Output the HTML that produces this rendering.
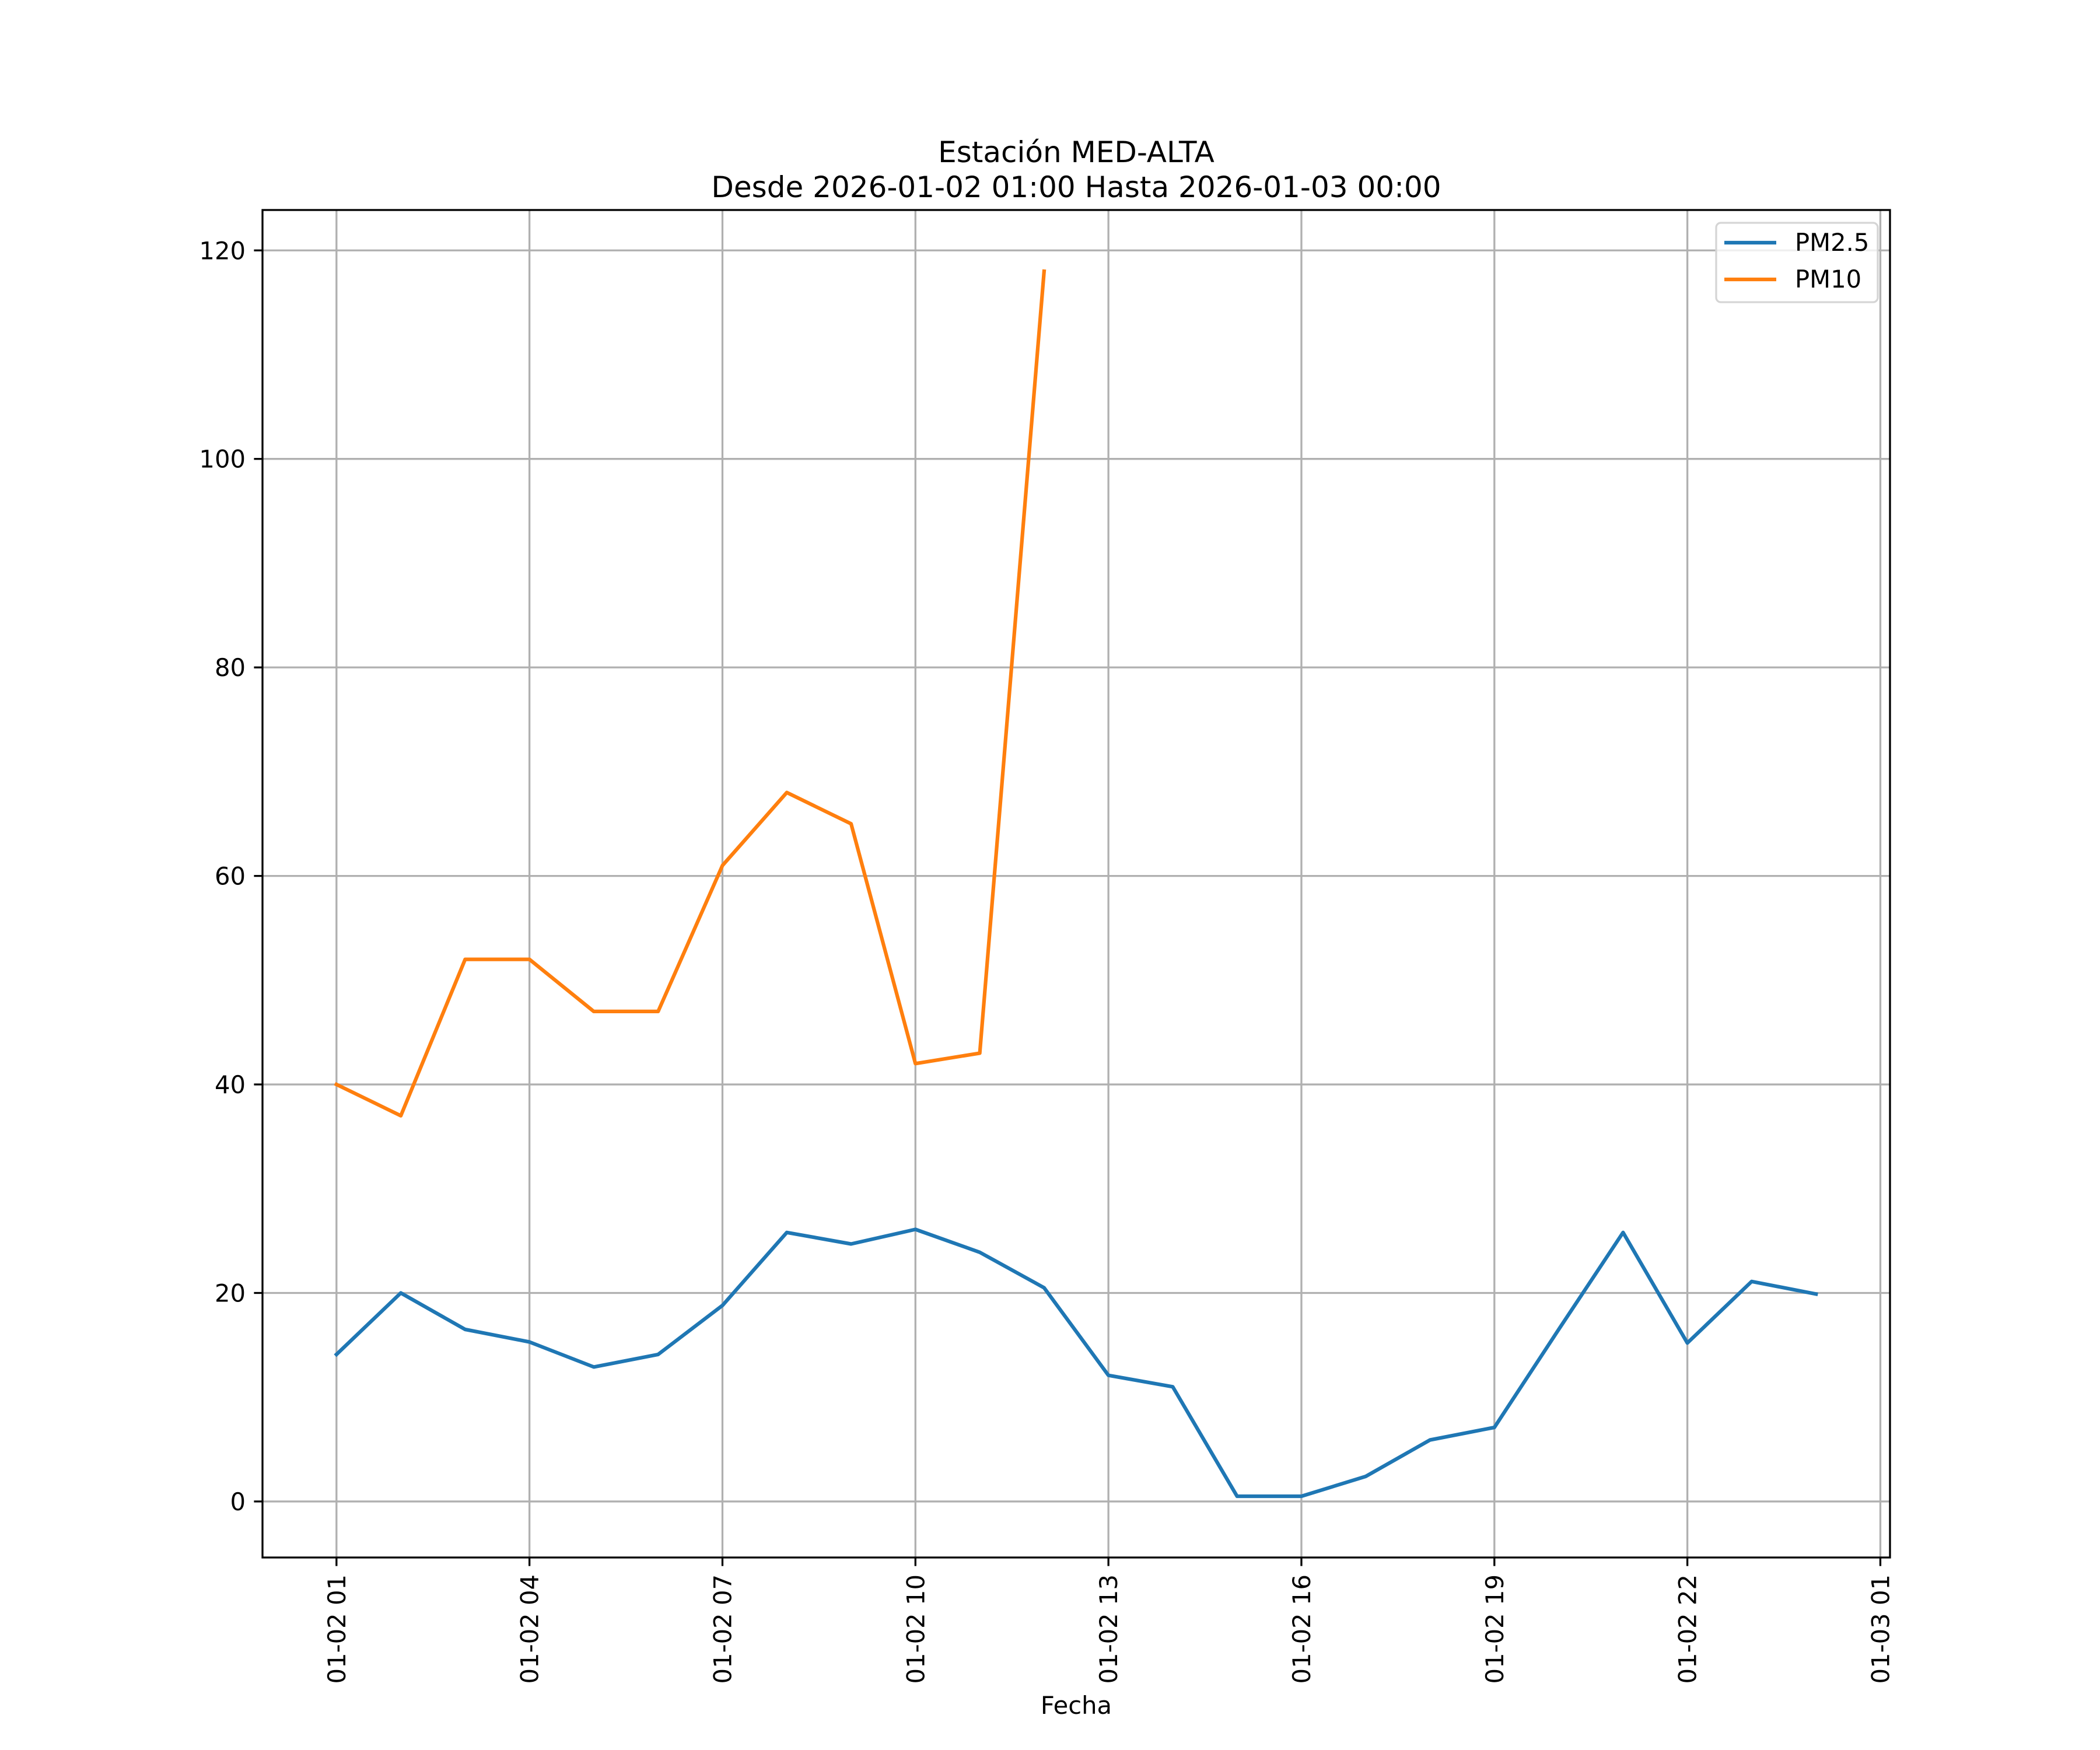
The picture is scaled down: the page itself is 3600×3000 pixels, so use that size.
<!DOCTYPE html>
<html><head><meta charset="utf-8"><style>
html,body{margin:0;padding:0;background:#fff}
svg{display:block;font-family:"DejaVu Sans","Liberation Sans",sans-serif}
</style></head><body>
<svg id="chart" width="3600" height="3000" viewBox="0 0 3600 3000" xmlns="http://www.w3.org/2000/svg">
<rect width="3600" height="3000" fill="#fff"/>
<text x="1845" y="278" font-size="50" text-anchor="middle">Estación MED-ALTA</text>
<text x="1845" y="338" font-size="50" text-anchor="middle">Desde 2026-01-02 01:00 Hasta 2026-01-03 00:00</text>
<g id="grid"></g>
<g id="series"></g>
<rect x="450" y="360" width="2790" height="2310" fill="none" stroke="#000" stroke-width="3.3"/>
<g id="ticks"></g>
<text x="1845" y="2938" font-size="41.7" text-anchor="middle">Fecha</text>
<g>
<rect x="2942" y="382" width="277" height="136" rx="8" fill="#fff" fill-opacity="0.8" stroke="#d5d5d5" stroke-width="3.3"/>
<line x1="2956" y1="416" x2="3045" y2="416" stroke="#1f77b4" stroke-width="6.25"/>
<text x="3077" y="430" font-size="41.7">PM2.5</text>
<line x1="2956" y1="479" x2="3045" y2="479" stroke="#ff7f0e" stroke-width="6.25"/>
<text x="3077" y="493" font-size="41.7">PM10</text>
</g>
</svg>
<script>
const hours = [1,2,3,4,5,6,7,8,9,10,11,12,13,14,15,16,17,18,19,20,21,22,23,24];
const pm25 = [14.1,20,16.5,15.3,12.9,14.1,18.8,25.8,24.7,26.1,23.9,20.5,12.1,11,0.5,0.5,2.4,5.9,7.1,16.5,25.8,15.2,21.1,19.9];
const pm10 = [40,37,52,52,47,47,61,68,65,42,43,118,null,null,null,null,null,null,null,null,null,null,null,null];
const xTickHours = [1,4,7,10,13,16,19,22,25];
const xTickLabels = ["01-02 01","01-02 04","01-02 07","01-02 10","01-02 13","01-02 16","01-02 19","01-02 22","01-03 01"];
const yTicks = [0,20,40,60,80,100,120];

const L=450,R=3240,T=360,B=2670;
const allVals=pm25.concat(pm10).filter(v=>v!==null);
const dmin=Math.min(...allVals),dmax=Math.max(...allVals);
const ym=(dmax-dmin)*0.05, ymin=dmin-ym, ymax=dmax+ym;
const hmin=Math.min(...hours),hmax=Math.max(...hours);
const xm=(hmax-hmin)*0.05, xmin=hmin-xm, xmax=hmax+xm;
const X=h=>L+(h-xmin)/(xmax-xmin)*(R-L);
const Y=v=>B-(v-ymin)/(ymax-ymin)*(B-T);
const NS="http://www.w3.org/2000/svg";
function mk(tag,attrs,parent){const e=document.createElementNS(NS,tag);for(const k in attrs)e.setAttribute(k,attrs[k]);parent.appendChild(e);return e;}
const grid=document.getElementById('grid'),ticks=document.getElementById('ticks'),series=document.getElementById('series');
xTickHours.forEach((h,i)=>{
  const x=X(h);
  const g=mk('line',{x1:x,y1:T,x2:x,y2:B,stroke:'#b0b0b0','stroke-width':3.3},grid);
  
  
  const t=mk('line',{x1:x,y1:B,x2:x,y2:B+14.6,stroke:'#000','stroke-width':3.3},ticks);
  
  
  const tx=mk('text',{x:0,y:0,'font-size':41.7,'text-anchor':'end',transform:`translate(${x+15},${B+29}) rotate(-90)`},ticks);
  tx.textContent=xTickLabels[i];
  
  
});
yTicks.forEach(v=>{
  const y=Y(v);
  const g=mk('line',{x1:L,y1:y,x2:R,y2:y,stroke:'#b0b0b0','stroke-width':3.3},grid);
  
  
  const t=mk('line',{x1:L-14.6,y1:y,x2:L,y2:y,stroke:'#000','stroke-width':3.3},ticks);
  
  
  const tx=mk('text',{x:L-29,y:y+15,'font-size':41.7,'text-anchor':'end'},ticks);
  tx.textContent=String(v);
  
  
});
function pathFor(vals){let d='',pen=false;vals.forEach((v,i)=>{if(v===null){pen=false;return;}d+=(pen?'L':'M')+X(hours[i]).toFixed(1)+','+Y(v).toFixed(1);pen=true;});return d;}
const p1=mk('path',{d:pathFor(pm25),fill:'none',stroke:'#1f77b4','stroke-width':6.25,'stroke-linejoin':'round','stroke-linecap':'square'},series);


const p2=mk('path',{d:pathFor(pm10),fill:'none',stroke:'#ff7f0e','stroke-width':6.25,'stroke-linejoin':'round','stroke-linecap':'square'},series);


</script>
</body></html>
